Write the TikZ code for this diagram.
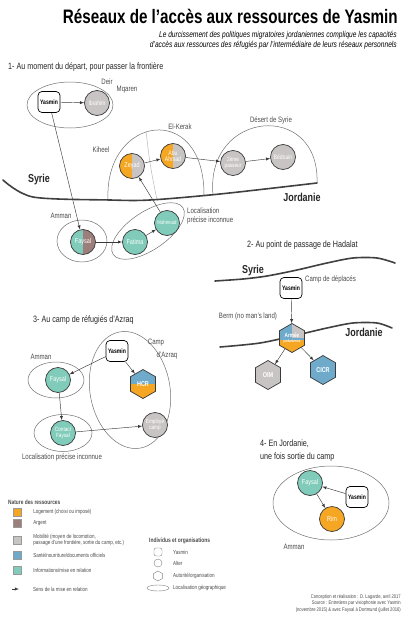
\documentclass[tikz,border=0pt]{standalone}
\usepackage{fontspec}
\setmainfont{Liberation Sans}[FakeStretch=0.78]
\usepackage{tikz}
\usetikzlibrary{arrows,shapes.geometric,positioning}

\definecolor{logement}{HTML}{F5A623}
\definecolor{argent}{HTML}{9C7E7B}
\definecolor{mobilite}{HTML}{C9C4C4}
\definecolor{sante}{HTML}{6FAACB}
\definecolor{info}{HTML}{80CBB9}
\definecolor{trait}{HTML}{3A3A3A}
\definecolor{contour}{HTML}{707070}
\definecolor{texte}{HTML}{4A4A4A}

\tikzset{
  alter/.style={circle,draw=trait,line width=0.7pt,minimum size=25pt,inner sep=0pt,
    text=white,align=center,font=\fontsize{7}{7}\selectfont},
  moitie/.style 2 args={alter,fill=#2,path picture={\fill[#1] (path picture bounding box.south west)
    rectangle (path picture bounding box.north);}},
  ego/.style={rectangle,rounded corners=4pt,draw=black,line width=0.7pt,fill=white,
    minimum width=22pt,minimum height=21pt,inner sep=0pt,font=\bfseries\fontsize{6.5}{7}\selectfont},
  orga/.style={regular polygon,regular polygon sides=6,shape border rotate=30,draw=trait,
    line width=0.7pt,minimum size=29pt,inner sep=0pt,text=white,align=center,
    font=\bfseries\fontsize{7}{7}\selectfont},
  lieu/.style={ellipse,draw=contour,line width=0.5pt,inner sep=0pt},
  etiq/.style={text=texte,align=left,inner sep=0pt,font=\fontsize{7.8}{9}\selectfont},
  section/.style={anchor=west,inner sep=0pt,align=left,text=black!85,font=\fontsize{9.2}{13}\selectfont},
  pays/.style={inner sep=0pt,text=black!85,font=\bfseries\fontsize{11.5}{12}\selectfont},
  frontiere/.style={line width=1.6pt,draw=black!75,line cap=round},
  carre/.style={rectangle,draw=black!40,line width=0.3pt,minimum size=8pt,inner sep=0pt},
  legende/.style={anchor=west,inner sep=0pt,align=left,text=texte,font=\fontsize{5.8}{6.5}\selectfont},
  symbole/.style={draw=black!50,line width=0.4pt,inner sep=0pt},
}

\begin{document}
\begin{tikzpicture}[x=1pt,y=-1pt,>=latex,
    lien/.style={->,color=trait,line width=0.45pt}]
  \useasboundingbox (0,0) rectangle (411,618);

  % titre
  \node [anchor=east,inner sep=0pt,font=\bfseries\fontsize{19.5}{20}\selectfont] (titre) at (398,16)
    {Réseaux de l’accès aux ressources de Yasmin};
  \node [anchor=north east,inner sep=0pt,align=right,font=\itshape\fontsize{8.5}{10.5}\selectfont]
    (soustitre) at (397,31) {Le durcissement des politiques migratoires jordaniennes complique les capacités\\
    d’accès aux ressources des réfugiés par l’intermédiaire de leurs réseaux personnels};

  % 1- depart
  \node [section] (s1) at (8,67) {1- Au moment du départ, pour passer la frontière};
  \node [lieu,minimum width=86pt,minimum height=46pt] (deir) at (70,105) {};
  \node [etiq] (deirA) at (107,82) {Deir}; \node [etiq] (deirB) at (127,90) {Mqaren};
  \draw [contour,line width=0.5pt] (108,200) .. controls (104,115) and (205,100) .. (204,196);
  \draw [contour!50,line width=0.5pt] (146,131) .. controls (150,165) .. (157,200);
  \draw [contour,line width=0.5pt] (213,195) .. controls (205,110) and (320,100) .. (317,183);
  \draw [frontiere] plot [smooth] coordinates {(3,180) (33,197) (110,200) (150,200) (220,194) (317,183)};
  \node [pays] (syrieA) at (39,180) {Syrie}; \node [pays] (jordanieA) at (302,197) {Jordanie};
  \node [etiq] (kiheel) at (101,150) {Kiheel}; \node [etiq] (kerak) at (180,127) {El-Kerak};
  \node [etiq] (desert) at (271,120) {Désert de Syrie};

  \node [ego] (yasminA) at (49,102) {Yasmin};
  \node [alter,fill=mobilite,font=\fontsize{6.5}{6.5}\selectfont] (ibrahim) at (97,103) {Ibrahim};
  \node [moitie={logement}{mobilite}] (zeyad) at (132,166) {Zeyad};
  \node [moitie={logement}{mobilite},font=\fontsize{6.5}{6.5}\selectfont] (abuahmad) at (173,156) {Abu\\Ahmad};
  \node [alter,fill=mobilite,font=\fontsize{6}{6}\selectfont] (passeur) at (233,163) {2ème\\passeur};
  \node [alter,fill=mobilite,font=\fontsize{6.5}{6.5}\selectfont] (bedouin) at (283,157) {Bédouin};

  \node [lieu,minimum width=50pt,minimum height=42pt] (ammanA) at (82,241) {};
  \node [etiq] (ammanAl) at (61,216) {Amman};
  \node [lieu,minimum width=84pt,minimum height=38pt,rotate=34] (locA) at (148,231) {};
  \node [etiq,anchor=west] (locAl) at (187,216) {Localisation\\précise inconnue};
  \node [moitie={info}{argent}] (faysalA) at (83,242) {Faysal};
  \node [alter,fill=info] (fatima) at (135,242) {Fatima};
  \node [alter,fill=info,font=\fontsize{5.5}{5.5}\selectfont] (mahmoud) at (167,223) {Mahmoud};

  \path [lien] (yasminA) edge (ibrahim) edge (faysalA) (zeyad) edge (abuahmad)
    (abuahmad) edge (passeur) (passeur) edge (bedouin) (faysalA) edge (fatima)
    (fatima) edge (mahmoud) (mahmoud) edge (zeyad);

  % 2- Hadalat
  \node [section] (s2) at (247,245) {2- Au point de passage de Hadalat};
  \draw [frontiere] plot [smooth] coordinates {(215,281) (243,279) (267,276) (297,270) (327,263) (353,258) (377,258) (395,263)};
  \draw [frontiere] plot [smooth] coordinates {(220,347) (260,343) (297,335) (327,328) (353,323) (377,323) (392,328)};
  \node [pays] (syrieB) at (253,271) {Syrie}; \node [pays] (jordanieB) at (364,332) {Jordanie};
  \node [etiq,anchor=west] (campdep) at (305,279) {Camp de déplacés};
  \node [etiq] (berm) at (248,316) {Berm (no man’s land)};
  \node [ego] (yasminB) at (291,288) {Yasmin};
  \node [orga,fill=sante,font=\bfseries\fontsize{6}{6}\selectfont,path picture={
      \fill[mobilite] (path picture bounding box.north) rectangle (path picture bounding box.east);
      \fill[logement] (path picture bounding box.south west) rectangle ([yshift=-1.5pt]path picture bounding box.east);}]
    (armee) at (292,338) {Armée\\[-1pt]{\fontsize{3.8}{4}\selectfont jordanienne}};
  \node [orga,fill=mobilite] (oim) at (268,375) {OIM};
  \node [orga,fill=sante] (cicr) at (323,370) {CICR};
  \path [lien] (yasminB) edge (armee) (armee) edge (oim) edge (cicr);

  % 3- Azraq
  \node [section] (s3) at (33,320) {3- Au camp de réfugiés d’Azraq};
  \node [lieu,minimum width=80pt,minimum height=118pt,rotate=10] (azraq) at (130,390) {};
  \node [etiq] (campl) at (156,343) {Camp}; \node [etiq] (azraql) at (167,355) {d’Azraq};
  \node [lieu,minimum width=56pt,minimum height=36pt] (ammanC) at (56,380) {};
  \node [etiq] (ammanCl) at (41,357) {Amman};
  \node [lieu,minimum width=58pt,minimum height=37pt] (locC) at (63,433) {};
  \node [etiq] (locCl) at (62,457) {Localisation précise inconnue};
  \node [ego] (yasminC) at (117,351) {Yasmin};
  \node [orga,fill=sante,path picture={\fill[logement] (path picture bounding box.south west)
      rectangle (path picture bounding box.east);}] (hcr) at (143,384) {HCR};
  \node [alter,fill=mobilite,font=\fontsize{6}{6}\selectfont] (employe) at (155,425) {Employé\\camp};
  \node [alter,fill=info] (faysalC) at (58,380) {Faysal};
  \node [alter,fill=info,font=\fontsize{6}{6}\selectfont] (contact) at (63,433) {Contact\\Faysal};
  \path [lien] (yasminC) edge (faysalC) edge (hcr) (faysalC) edge (contact) (contact) edge (employe);

  % 4- Jordanie
  \node [section,anchor=north west] (s4) at (260,440) {4- En Jordanie,\\une fois sortie du camp};
  \node [lieu,minimum width=116pt,minimum height=74pt] (ammanD) at (331,503) {};
  \node [etiq] (ammanDl) at (294,547) {Amman};
  \node [alter,fill=info] (faysalD) at (310,483) {Faysal};
  \node [ego] (yasminD) at (357,497) {Yasmin};
  \node [alter,fill=logement] (rim) at (332,519) {Rim};
  \path [lien] (yasminD) edge (faysalD) (faysalD) edge (rim);

  % legende
  \node [legende,font=\bfseries\fontsize{6.2}{7}\selectfont] (nature) at (8,502) {Nature des ressources};
  \node [carre,fill=logement] (c1) at (17,512) {}; \node [legende,right=12pt of c1] (t1) {Logement (choisi ou imposé)};
  \node [carre,fill=argent] (c2) at (17,523) {}; \node [legende,right=12pt of c2] (t2) {Argent};
  \node [carre,fill=mobilite] (c3) at (17,540) {}; \node [legende,right=12pt of c3] (t3)
    {Mobilité (moyen de locomotion,\\passage d’une frontière, sortie du camp, etc.)};
  \node [carre,fill=sante] (c4) at (17,555) {}; \node [legende,right=12pt of c4] (t4) {Santé/nourriture/documents officiels};
  \node [carre,fill=info] (c5) at (17,570) {}; \node [legende,right=12pt of c5] (t5) {Informations/mise en relation};
  \coordinate (f1) at (12,589); \coordinate (f2) at (19,589);
  \draw [lien] (f1) -- (f2);
  \node [legende] (tf) at (33,589) {Sens de la mise en relation};

  \node [legende,font=\bfseries\fontsize{6.3}{7}\selectfont] (indiv) at (149,541) {Individus et organisations};
  \node [symbole,rectangle,rounded corners=2pt,minimum size=8pt] (l1) at (158,552) {};
  \node [symbole,circle,minimum size=8pt] (l2) at (158,563) {};
  \node [symbole,regular polygon,regular polygon sides=6,shape border rotate=30,minimum size=10pt] (l3) at (158,576) {};
  \node [symbole,ellipse,minimum width=22pt,minimum height=6pt] (l4) at (158,588) {};
  \node [legende] (tl1) at (173,552) {Yasmin}; \node [legende] (tl2) at (173,563) {Alter};
  \node [legende] (tl3) at (173,576) {Autorité/organisation};
  \node [legende] (tl4) at (173,588) {Localisation géographique};

  \node [anchor=north east,align=right,inner sep=0pt,text=texte,font=\fontsize{5.3}{6.8}\selectfont]
    (credits) at (401,594) {Conception et réalisation : D. Lagarde, avril 2017\\
    Source : Entretiens par visiophonie avec Yasmin\\
    (novembre 2015) \& avec Faysal à Dortmund (juillet 2016)};
\end{tikzpicture}
\end{document}
